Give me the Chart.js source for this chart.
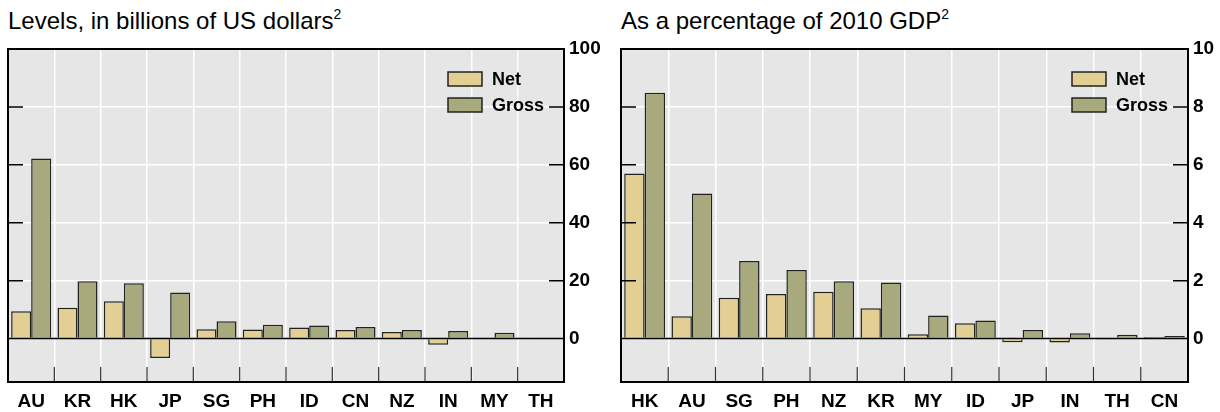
<!DOCTYPE html>
<html lang="en">
<head>
<meta charset="UTF-8">
<title>Net and gross positions</title>
<script src="https://cdn.jsdelivr.net/npm/chart.js"></script>
<style>
    body {
        margin: 0;
        width: 1220px;
        height: 412px;
        background: #fff;
        position: relative;
        overflow: hidden;
        font-family: 'Liberation Sans', Arial, sans-serif;
    }
    .title {
        position: absolute;
        top: 7px;
        font-size: 24px;
        line-height: 27px;
        color: #000;
        white-space: nowrap;
    }
    .title sup {
        font-size: 14px;
        vertical-align: 10px;
        line-height: 0;
    }
    canvas {
        position: absolute;
        top: 0;
    }
</style>
</head>
<body>
<div class="title" style="left:8px">Levels, in billions of US dollars<sup>2</sup></div>
<div class="title" style="left:621px">As a percentage of 2010 GDP<sup>2</sup></div>
<canvas id="levelChart" width="610" height="412" style="left:0"></canvas>
<canvas id="gdpChart" width="608" height="412" style="left:612px"></canvas>

<script>
// Left panel: levels, USD bn
var levelCats = ['AU', 'KR', 'HK', 'JP', 'SG', 'PH', 'ID', 'CN', 'NZ', 'IN', 'MY', 'TH'];
var levelNet = [9.4, 10.6, 12.9, -6.7, 3.2, 3.1, 3.8, 3.0, 2.3, -2.1, 0.4, -0.1];
var levelGross = [62.2, 19.8, 19.1, 15.9, 6.0, 4.8, 4.5, 4.0, 3.0, 2.6, 2.0, 0.4];
var levelTicks = [0, 20, 40, 60, 80, 100];

// Right panel: % of 2010 GDP
var gdpCats = ['HK', 'AU', 'SG', 'PH', 'NZ', 'KR', 'MY', 'ID', 'JP', 'IN', 'TH', 'CN'];
var gdpNet = [5.7, 0.77, 1.41, 1.54, 1.62, 1.05, 0.15, 0.53, -0.13, -0.14, -0.03, 0.05];
var gdpGross = [8.49, 5.01, 2.68, 2.37, 1.98, 1.94, 0.8, 0.62, 0.3, 0.18, 0.13, 0.09];
var gdpTicks = [0, 2, 4, 6, 8, 10];

var NET_COLOR = '#E3CF93';
var GROSS_COLOR = '#A8A97C';
var FONT = "'Liberation Sans', Arial, sans-serif";

// background, frame, inside tick marks, zero line and legend
var panelPlugin = {
    id: 'panel',
    beforeDraw: function (chart) {
        var a = chart.chartArea, ctx = chart.ctx;
        ctx.save();
        ctx.fillStyle = '#E6E6E6';
        ctx.fillRect(a.left, a.top, a.right - a.left, a.bottom - a.top);
        ctx.restore();
    },
    afterDatasetsDraw: function (chart) {
        var a = chart.chartArea, ctx = chart.ctx;
        var x = chart.scales.x, y = chart.scales.y;
        ctx.save();

        // zero line
        var y0 = y.getPixelForValue(0);
        ctx.strokeStyle = '#000';
        ctx.lineWidth = 1.5;
        ctx.beginPath();
        ctx.moveTo(a.left, y0);
        ctx.lineTo(a.right, y0);
        ctx.stroke();

        // y ticks inside on both sides
        y.ticks.forEach(function (t) {
            if (t.value <= y.min || t.value >= y.max || t.value === 0) return;
            var py = y.getPixelForValue(t.value);
            ctx.beginPath();
            ctx.moveTo(a.left, py);
            ctx.lineTo(a.left + 15, py);
            ctx.moveTo(a.right - 15, py);
            ctx.lineTo(a.right, py);
            ctx.stroke();
        });

        // x ticks at category boundaries, from the bottom
        ctx.strokeStyle = '#333';
        ctx.lineWidth = 1.2;
        for (var i = 1; i < chart.data.labels.length; i++) {
            var px = (x.getPixelForValue(i - 1) + x.getPixelForValue(i)) / 2;
            ctx.beginPath();
            ctx.moveTo(px, a.bottom);
            ctx.lineTo(px, a.bottom - 15);
            ctx.stroke();
        }

        // frame
        ctx.strokeStyle = '#000';
        ctx.lineWidth = 2;
        ctx.strokeRect(a.left, a.top, a.right - a.left, a.bottom - a.top);

        // legend
        var bx = a.right - 116;
        chart.data.datasets.forEach(function (ds, k) {
            var by = a.top + 23 + k * 26;
            ctx.fillStyle = ds.backgroundColor;
            ctx.fillRect(bx, by, 34, 14);
            ctx.strokeStyle = '#222';
            ctx.lineWidth = 1.5;
            ctx.strokeRect(bx, by, 34, 14);
            ctx.fillStyle = '#000';
            ctx.font = 'bold 18px ' + FONT;
            ctx.textBaseline = 'middle';
            ctx.fillText(ds.label, bx + 44, by + 8);
        });
        ctx.restore();
    }
};

function makeChart(id, cats, net, gross, ticks, yMin, padLeft, axisWidth) {
    return new Chart(document.getElementById(id), {
        type: 'bar',
        data: {
            labels: cats,
            datasets: [{
                label: 'Net',
                data: net,
                backgroundColor: NET_COLOR,
                borderColor: '#222',
                borderWidth: 1.5
            }, {
                label: 'Gross',
                data: gross,
                backgroundColor: GROSS_COLOR,
                borderColor: '#222',
                borderWidth: 1.5
            }]
        },
        options: {
            responsive: false,
            animation: false,
            devicePixelRatio: 1,
            layout: { padding: { left: padLeft, top: 49, right: 0, bottom: 0 } },
            datasets: { bar: { categoryPercentage: 0.864, barPercentage: 1.0 } },
            plugins: { legend: { display: false }, tooltip: { enabled: false } },
            scales: {
                x: {
                    grid: { color: '#fff', lineWidth: 1.5, drawTicks: false },
                    border: { display: false },
                    ticks: { color: '#000', font: { family: FONT, size: 19, weight: 'bold' }, padding: 8, maxRotation: 0 },
                    afterFit: function (s) { s.height = 30; }
                },
                y: {
                    position: 'right',
                    min: yMin,
                    max: ticks[ticks.length - 1],
                    afterBuildTicks: function (s) {
                        s.ticks = ticks.map(function (v) { return { value: v }; });
                    },
                    grid: {
                        drawTicks: false,
                        lineWidth: 1.5,
                        color: function (c) { return c.tick && c.tick.value === 0 ? 'rgba(0,0,0,0)' : '#fff'; }
                    },
                    border: { display: false },
                    ticks: { color: '#000', font: { family: FONT, size: 19, weight: 'bold' }, padding: 5 },
                    afterFit: function (s) { s.width = axisWidth; }
                }
            }
        },
        plugins: [panelPlugin]
    });
}

makeChart('levelChart', levelCats, levelNet, levelGross, levelTicks, -15, 8, 46);
makeChart('gdpChart', gdpCats, gdpNet, gdpGross, gdpTicks, -1.5, 9, 32);
</script>
</body>
</html>
